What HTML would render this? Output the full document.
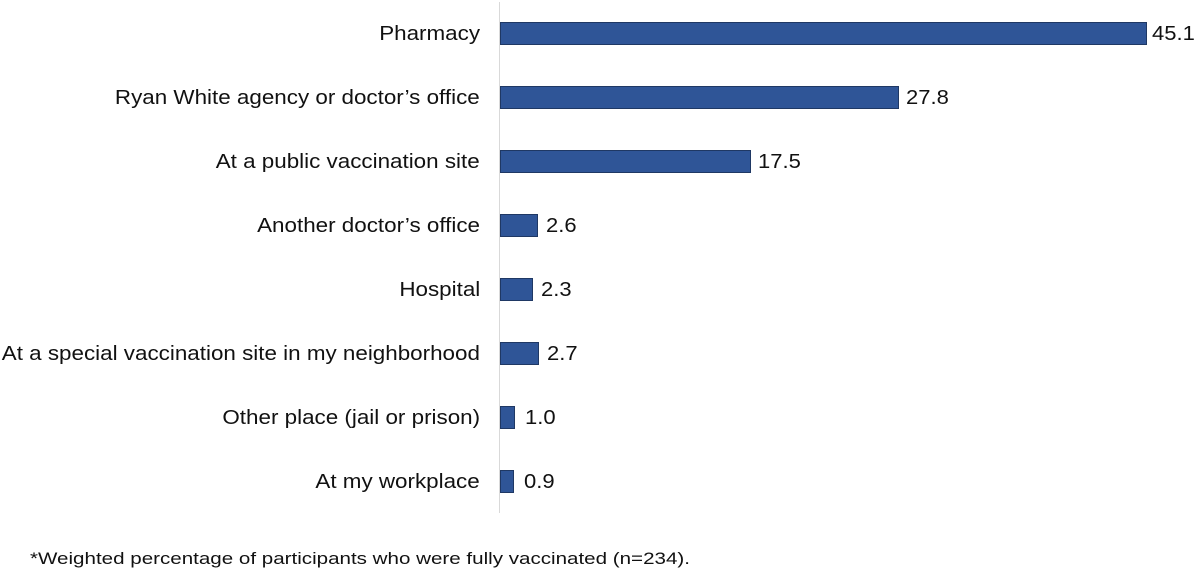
<!DOCTYPE html>
<html><head><style>
body{margin:0;width:1200px;height:572px;background:#fff;position:relative;font-family:"Liberation Sans",Arial,sans-serif;overflow:hidden}
.ax{position:absolute;left:499px;top:2px;width:1px;height:511px;background:#d9d9d9}
.lab{position:absolute;right:720px;font-size:20px;color:#111;white-space:nowrap;line-height:24px;transform:scaleX(1.12);transform-origin:right center}
.bar{position:absolute;left:500px;height:23px;background:#2f5597;border:1px solid #1f3864;box-sizing:border-box}
.val{position:absolute;font-size:20px;color:#111;line-height:24px;transform:scaleX(1.1);transform-origin:left center}
.fn{position:absolute;left:30px;top:549px;font-size:17px;color:#111;white-space:nowrap;transform:scaleX(1.21);transform-origin:left center}
</style></head><body>
<div class="ax"></div>
<div class="lab" style="top:22px">Pharmacy</div><div class="bar" style="top:22px;width:647px"></div><div class="val" style="top:22px;left:1152px">45.1</div>
<div class="lab" style="top:86px">Ryan White agency or doctor’s office</div><div class="bar" style="top:86px;width:399px"></div><div class="val" style="top:86px;left:906px">27.8</div>
<div class="lab" style="top:150px">At a public vaccination site</div><div class="bar" style="top:150px;width:251px"></div><div class="val" style="top:150px;left:758px">17.5</div>
<div class="lab" style="top:214px">Another doctor’s office</div><div class="bar" style="top:214px;width:38px"></div><div class="val" style="top:214px;left:546px">2.6</div>
<div class="lab" style="top:278px">Hospital</div><div class="bar" style="top:278px;width:33px"></div><div class="val" style="top:278px;left:541px">2.3</div>
<div class="lab" style="top:342px">At a special vaccination site in my neighborhood</div><div class="bar" style="top:342px;width:39px"></div><div class="val" style="top:342px;left:547px">2.7</div>
<div class="lab" style="top:406px">Other place (jail or prison)</div><div class="bar" style="top:406px;width:15px"></div><div class="val" style="top:406px;left:525px">1.0</div>
<div class="lab" style="top:470px">At my workplace</div><div class="bar" style="top:470px;width:14px"></div><div class="val" style="top:470px;left:524px">0.9</div>
<div class="fn">*Weighted percentage of participants who were fully vaccinated (n=234).</div>
</body></html>
